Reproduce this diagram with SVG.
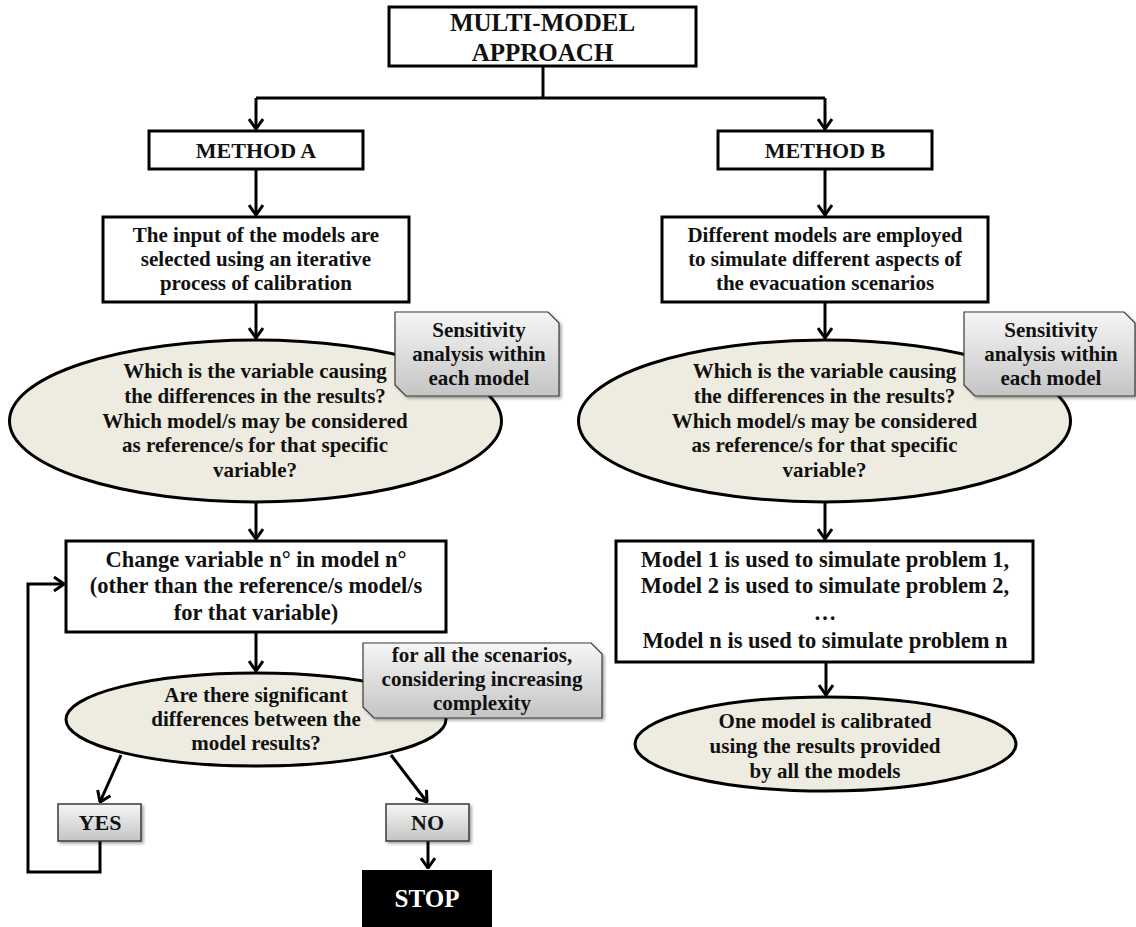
<svg xmlns="http://www.w3.org/2000/svg" width="1136" height="927" viewBox="0 0 1136 927">
<style>
  text { font-family: "Liberation Serif", "Times New Roman", serif; font-weight: bold; fill: #111; text-anchor: middle; }
  .t21 { font-size: 21px; }
  .t22 { font-size: 22.5px; }
  .box { fill: #fff; stroke: #000; stroke-width: 3; }
  .ell { fill: #eeece1; stroke: #000; stroke-width: 3; }
  .call { fill: url(#gray); stroke: #3a3a3a; stroke-width: 1.2; filter: url(#sh); }
  .conn { fill: none; stroke: #000; stroke-width: 3; }
</style>
<defs>
  <linearGradient id="gray" x1="0" y1="0" x2="0" y2="1">
    <stop offset="0" stop-color="#f6f6f6"/>
    <stop offset="1" stop-color="#c4c4c4"/>
  </linearGradient>
  <filter id="sh" x="-10%" y="-10%" width="130%" height="140%">
    <feDropShadow dx="2" dy="2" stdDeviation="1.5" flood-color="#000" flood-opacity="0.35"/>
  </filter>
  <marker id="ah" viewBox="0 0 12 16" refX="11" refY="8" markerWidth="12" markerHeight="16" markerUnits="userSpaceOnUse" orient="auto">
    <path d="M1,1 L11,8 L1,15" fill="none" stroke="#000" stroke-width="3"/>
  </marker>
</defs>
<rect width="1136" height="927" fill="#fff"/>

<g id="connectors">
  <path class="conn" d="M543,66 V98"/>
  <path class="conn" d="M256,98 H825"/>
  <path class="conn" d="M256,98 V129" marker-end="url(#ah)"/>
  <path class="conn" d="M825,98 V129" marker-end="url(#ah)"/>
  <path class="conn" d="M256,169 V215" marker-end="url(#ah)"/>
  <path class="conn" d="M256,302 V338" marker-end="url(#ah)"/>
  <path class="conn" d="M256,502 V539" marker-end="url(#ah)"/>
  <path class="conn" d="M256,632 V671" marker-end="url(#ah)"/>
  <path class="conn" d="M121,755 L100,802" marker-end="url(#ah)"/>
  <path class="conn" d="M391,755 L427,802" marker-end="url(#ah)"/>
  <path class="conn" d="M428,841 V868" marker-end="url(#ah)"/>
  <path class="conn" d="M100,841 V872 H28 V584 H64" marker-end="url(#ah)"/>
  <path class="conn" d="M825,169 V215" marker-end="url(#ah)"/>
  <path class="conn" d="M825,302 V338" marker-end="url(#ah)"/>
  <path class="conn" d="M825,502 V539" marker-end="url(#ah)"/>
  <path class="conn" d="M826,662 V695" marker-end="url(#ah)"/>
</g>

<g id="n-top">
  <rect class="box" x="389" y="7" width="307" height="59"/>
  <text x="542.5" y="31" style="font-size:25px">MULTI-MODEL</text>
  <text x="542.5" y="61" style="font-size:25px">APPROACH</text>
</g>

<g id="n-methodA">
  <rect class="box" x="149" y="131" width="214" height="38"/>
  <text x="256" y="158" style="font-size:22px">METHOD A</text>
</g>
<g id="n-methodB">
  <rect class="box" x="718" y="131" width="214" height="38"/>
  <text x="825" y="158" style="font-size:22px">METHOD B</text>
</g>

<g id="n-a-input">
  <rect class="box" x="103" y="217" width="306" height="85"/>
  <text class="t21" x="256" y="242">The input of the models are</text>
  <text class="t21" x="256" y="266">selected using an iterative</text>
  <text class="t21" x="256" y="290">process of calibration</text>
</g>
<g id="n-b-input">
  <rect class="box" x="662" y="217" width="326" height="85"/>
  <text class="t21" x="825" y="242">Different models are employed</text>
  <text class="t21" x="825" y="266">to simulate different aspects of</text>
  <text class="t21" x="825" y="290">the evacuation scenarios</text>
</g>

<g id="n-a-question">
  <ellipse class="ell" cx="255.5" cy="421" rx="246" ry="81"/>
  <text class="t21" x="255" y="378">Which is the variable causing</text>
  <text class="t21" x="255" y="403">the differences in the results?</text>
  <text class="t21" x="255" y="428">Which model/s may be considered</text>
  <text class="t21" x="255" y="452">as reference/s for that specific</text>
  <text class="t21" x="255" y="477">variable?</text>
</g>
<g id="n-a-sensitivity">
  <path class="call" d="M395,312 L548,312 L559,323 L559,396 L406,396 L395,385 Z"/>
  <text class="t21" x="479" y="337">Sensitivity</text>
  <text class="t21" x="479" y="361">analysis within</text>
  <text class="t21" x="479" y="385">each model</text>
</g>

<g id="n-b-question">
  <ellipse class="ell" cx="824.5" cy="421" rx="246" ry="81"/>
  <text class="t21" x="824.5" y="378">Which is the variable causing</text>
  <text class="t21" x="824.5" y="403">the differences in the results?</text>
  <text class="t21" x="824.5" y="428">Which model/s may be considered</text>
  <text class="t21" x="824.5" y="452">as reference/s for that specific</text>
  <text class="t21" x="824.5" y="477">variable?</text>
</g>
<g id="n-b-sensitivity">
  <path class="call" d="M964,312 L1124,312 L1135,323 L1135,396 L975,396 L964,385 Z"/>
  <text class="t21" x="1051" y="337">Sensitivity</text>
  <text class="t21" x="1051" y="361">analysis within</text>
  <text class="t21" x="1051" y="385">each model</text>
</g>

<g id="n-a-change">
  <rect class="box" x="66" y="541" width="380" height="91"/>
  <text class="t22" x="256" y="567">Change variable n° in model n°</text>
  <text class="t22" x="256" y="593">(other than the reference/s model/s</text>
  <text class="t22" x="256" y="620">for that variable)</text>
</g>
<g id="n-b-models">
  <rect class="box" x="616" y="541" width="417" height="121"/>
  <text class="t22" x="825" y="567">Model 1 is used to simulate problem 1,</text>
  <text class="t22" x="825" y="593">Model 2 is used to simulate problem 2,</text>
  <text class="t22" x="825" y="620">…</text>
  <text class="t22" x="825" y="648">Model n is used to simulate problem n</text>
</g>

<g id="n-a-significant">
  <ellipse class="ell" cx="256" cy="719.5" rx="190" ry="46.5"/>
  <text class="t21" x="256" y="702">Are there significant</text>
  <text class="t21" x="256" y="726">differences between the</text>
  <text class="t21" x="256" y="750">model results?</text>
</g>
<g id="n-a-scenarios">
  <path class="call" d="M363,643 L591,643 L602,654 L602,718 L374,718 L363,707 Z"/>
  <text class="t21" x="482" y="662">for all the scenarios,</text>
  <text class="t21" x="482" y="686">considering increasing</text>
  <text class="t21" x="482" y="710">complexity</text>
</g>

<g id="n-b-calibrated">
  <ellipse class="ell" cx="825.5" cy="744" rx="190.5" ry="47"/>
  <text class="t21" x="825" y="728">One model is calibrated</text>
  <text class="t21" x="825" y="753">using the results provided</text>
  <text class="t21" x="825" y="778">by all the models</text>
</g>

<g id="n-yes">
  <rect class="call" x="58" y="804" width="83" height="37" style="stroke-width:1.5"/>
  <text x="100" y="830" style="font-size:22px">YES</text>
</g>
<g id="n-no">
  <rect class="call" x="386" y="804" width="83" height="37" style="stroke-width:1.5"/>
  <text x="427.5" y="830" style="font-size:22px">NO</text>
</g>
<g id="n-stop">
  <rect x="362" y="870" width="130" height="62" fill="#000"/>
  <text x="427" y="907" style="font-size:25px;fill:#fff">STOP</text>
</g>
</svg>
